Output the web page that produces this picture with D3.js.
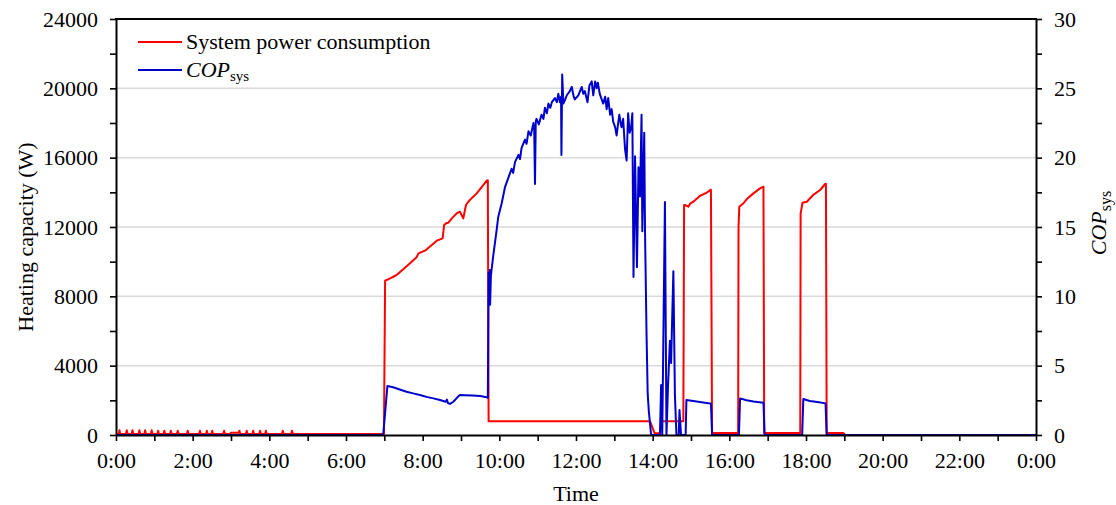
<!DOCTYPE html>
<html>
<head>
<meta charset="utf-8">
<script src="https://cdn.jsdelivr.net/npm/d3@7"></script>
<style>
  html, body { margin: 0; padding: 0; background: #fff; }
  svg { display: block; font-family: "Liberation Serif", "Times New Roman", serif; }
</style>
</head>
<body>
<svg id="chart" width="1116" height="505"></svg>
<script>
// ---- data: time of day in hours, power in W, COP dimensionless ----
const hourTicks = d3.range(0, 25, 1);          // minor every hour, labelled every 2 h
const powerTicks = d3.range(0, 24001, 2000);   // labelled every 4000 W
const copTicks = d3.range(0, 30.01, 2.5);      // labelled every 5
const gridValues = [4000, 8000, 12000, 16000, 20000];

const seriesNames = ["System power consumption", "COP"];

// System power consumption (W)
const powerSeries = [
  [0, 60], [0.07, 60], [0.09, 280], [0.11, 60],
  [0.26, 60], [0.28, 280], [0.30, 60],
  [0.41, 60], [0.43, 280], [0.45, 60],
  [0.59, 60], [0.61, 280], [0.63, 60],
  [0.74, 60], [0.76, 280], [0.78, 60],
  [0.91, 60], [0.93, 280], [0.95, 60],
  [1.08, 60], [1.10, 250], [1.12, 60],
  [1.24, 60], [1.26, 250], [1.28, 60],
  [1.41, 60], [1.43, 250], [1.45, 60],
  [1.59, 60], [1.61, 250], [1.63, 60],
  [1.85, 60], [1.87, 250], [1.89, 60],
  [2.17, 60], [2.19, 250], [2.21, 60],
  [2.35, 60], [2.37, 250], [2.39, 60],
  [2.49, 60], [2.51, 250], [2.53, 60],
  [2.80, 60], [2.82, 250], [2.84, 60],
  [2.97, 60], [3.00, 130], [3.20, 130], [3.22, 250], [3.24, 60],
  [3.39, 60], [3.41, 250], [3.43, 60],
  [3.56, 60], [3.58, 250], [3.60, 60],
  [3.74, 60], [3.76, 250], [3.78, 60],
  [3.89, 60], [3.91, 250], [3.93, 60],
  [4.33, 60], [4.35, 250], [4.37, 60],
  [4.57, 60], [4.59, 250], [4.61, 60],
  [6.99, 60], [7.02, 8900], [7.06, 8942], [7.15, 9038], [7.32, 9231],
  [7.50, 9577], [7.67, 9904], [7.84, 10250], [7.89, 10481], [7.93, 10519],
  [8.06, 10635], [8.37, 11212], [8.52, 11346], [8.56, 12115], [8.61, 12212],
  [8.67, 12250], [8.76, 12500], [8.89, 12790], [8.97, 12885], [9.06, 12500],
  [9.13, 13270], [9.23, 13560], [9.41, 13940], [9.58, 14420], [9.67, 14670],
  [9.70, 14700], [9.72, 800],
  [13.93, 800], [14.05, 100], [14.19, 100], [14.23, 800], [14.80, 800],
  [14.82, 13270], [14.84, 13270], [14.93, 13170], [14.97, 13330], [15.06, 13460],
  [15.23, 13790], [15.41, 13980], [15.50, 14135], [15.52, 14150], [15.55, 120],
  [16.23, 120], [16.24, 12020], [16.26, 13170], [16.37, 13370], [16.45, 13600],
  [16.63, 13940], [16.80, 14230], [16.89, 14325], [16.91, 120],
  [17.85, 120], [17.86, 12790], [17.91, 13400], [18.02, 13460], [18.19, 13850],
  [18.37, 14135], [18.50, 14480], [18.52, 14500], [18.54, 120],
  [18.97, 120], [19.02, 0], [24, 0]
];

// System COP
const copSeries = [
  [0, 0], [6.97, 0], [7.08, 3.53], [7.23, 3.44], [7.40, 3.28], [7.58, 3.12],
  [7.75, 3.0], [7.93, 2.88], [8.10, 2.75], [8.28, 2.64], [8.45, 2.52],
  [8.60, 2.40], [8.63, 2.55], [8.66, 2.30], [8.71, 2.24], [8.80, 2.40],
  [8.90, 2.70], [8.97, 2.88], [9.10, 2.86], [9.30, 2.84], [9.50, 2.81],
  [9.67, 2.72], [9.70, 2.68], [9.72, 11.7], [9.73, 9.7], [9.75, 11.9],
  [9.76, 9.4], [9.78, 11.5], [9.84, 12.9], [9.93, 14.8], [9.97, 15.7],
  [10.06, 16.7], [10.15, 17.9], [10.23, 18.5], [10.32, 19.2], [10.36, 18.9],
  [10.41, 19.7], [10.50, 20.2], [10.54, 19.9], [10.58, 20.7], [10.67, 21.3],
  [10.71, 21.0], [10.76, 21.9], [10.82, 21.6], [10.89, 22.5], [10.91, 22.0],
  [10.93, 18.1], [10.95, 22.6], [10.97, 22.8], [11.03, 22.4], [11.10, 23.1],
  [11.15, 22.8], [11.19, 23.6], [11.24, 23.2], [11.28, 23.9], [11.33, 23.6],
  [11.37, 24.0], [11.45, 24.3], [11.50, 24.0], [11.54, 24.6], [11.58, 24.0],
  [11.61, 24.4], [11.62, 20.2], [11.64, 26.0], [11.67, 23.9], [11.72, 24.2],
  [11.76, 24.5], [11.84, 24.8], [11.89, 25.1], [11.94, 24.4], [11.97, 24.2],
  [12.06, 24.5], [12.15, 25.1], [12.19, 24.6], [12.23, 24.8], [12.30, 24.0],
  [12.35, 25.2], [12.41, 25.5], [12.45, 24.5], [12.50, 25.5], [12.54, 25.0],
  [12.57, 25.4], [12.62, 24.6], [12.67, 24.2], [12.71, 23.9], [12.76, 24.4],
  [12.80, 23.5], [12.84, 24.3], [12.89, 23.1], [12.93, 23.5], [12.97, 22.6],
  [13.02, 22.2], [13.06, 21.6], [13.10, 22.5], [13.13, 23.1], [13.17, 22.4],
  [13.19, 22.2], [13.23, 22.8], [13.28, 20.6], [13.32, 19.8], [13.36, 23.2],
  [13.40, 21.8], [13.44, 22.2], [13.47, 23.2], [13.50, 11.4], [13.54, 20.1],
  [13.59, 12.1], [13.63, 19.3], [13.67, 17.2], [13.71, 23.1], [13.73, 14.7],
  [13.78, 21.8], [13.80, 14.8], [13.84, 7.3], [13.87, 3.0], [13.90, 1.7],
  [13.96, 0], [14.19, 0], [14.22, 3.6], [14.25, 0], [14.32, 16.8], [14.36, 0],
  [14.40, 3.5], [14.45, 6.8], [14.48, 5.2], [14.54, 11.8], [14.58, 2.9],
  [14.62, 0], [14.68, 0], [14.70, 1.8], [14.74, 0], [14.86, 0],
  [14.88, 2.52], [15.06, 2.45], [15.23, 2.38], [15.50, 2.28], [15.52, 2.28],
  [15.55, 0], [16.25, 0], [16.28, 2.64], [16.45, 2.50], [16.63, 2.42],
  [16.89, 2.33], [16.92, 0], [17.90, 0], [17.93, 2.60], [18.10, 2.45],
  [18.30, 2.38], [18.51, 2.28], [18.54, 0], [24, 0]
];

// ---- layout ----
const svg = d3.select("#chart");
const plotLeft = 116, plotRight = 1036, plotTop = 19, plotBottom = 435;
const fontSize = 22;

const x = d3.scaleLinear().domain([0, 24]).range([plotLeft, plotRight]);
const yP = d3.scaleLinear().domain([0, 24000]).range([plotBottom, plotTop]);
const yC = d3.scaleLinear().domain([0, 30]).range([plotBottom, plotTop]);

// horizontal gridlines
svg.append("g").selectAll("line").data(gridValues).join("line")
  .attr("x1", plotLeft).attr("x2", plotRight)
  .attr("y1", d => yP(d)).attr("y2", d => yP(d))
  .attr("stroke", "#d9d9d9").attr("stroke-width", 1.5);

// data lines
const line = yScale => d3.line().x(d => x(d[0])).y(d => yScale(d[1]));
svg.append("path").datum(powerSeries)
  .attr("fill", "none").attr("stroke", "#ff0000").attr("stroke-width", 2)
  .attr("stroke-linejoin", "round").attr("d", line(yP));
svg.append("path").datum(copSeries)
  .attr("fill", "none").attr("stroke", "#0000cc").attr("stroke-width", 2)
  .attr("stroke-linejoin", "round").attr("d", line(yC));

// axes
function styleAxis(g) {
  g.select(".domain").attr("stroke", "#000").attr("stroke-width", 2);
  g.selectAll(".tick line").attr("stroke", "#000").attr("stroke-width", 1.6);
  g.selectAll(".tick text").attr("fill", "#000")
    .style("font-size", fontSize + "px").style("font-family", "'Liberation Serif', serif");
}

svg.append("g").attr("transform", `translate(0,${plotBottom})`)
  .call(d3.axisBottom(x).tickValues(hourTicks).tickSize(6).tickSizeOuter(0).tickPadding(11)
    .tickFormat(d => d % 2 === 0 ? `${d % 24}:00` : ""))
  .call(styleAxis);

svg.append("g").attr("transform", `translate(${plotLeft},0)`)
  .call(d3.axisLeft(yP).tickValues(powerTicks).tickSize(6).tickSizeOuter(0).tickPadding(12)
    .tickFormat(d => d % 4000 === 0 ? d : ""))
  .call(styleAxis);

svg.append("g").attr("transform", `translate(${plotRight},0)`)
  .call(d3.axisRight(yC).tickValues(copTicks).tickSize(6).tickSizeOuter(0).tickPadding(12)
    .tickFormat(d => d % 5 === 0 ? d : ""))
  .call(styleAxis);

// top frame
svg.append("line").attr("x1", plotLeft - 1).attr("x2", plotRight + 1)
  .attr("y1", plotTop).attr("y2", plotTop).attr("stroke", "#000").attr("stroke-width", 2);

// axis titles
svg.append("text").attr("x", x(12)).attr("y", 501).attr("text-anchor", "middle")
  .style("font-size", fontSize + "px").text("Time");

svg.append("text").attr("transform", `translate(33,${(plotTop + plotBottom) / 2 + 10}) rotate(-90)`)
  .attr("text-anchor", "middle").style("font-size", fontSize + "px")
  .text("Heating capacity (W)");

const copTitle = svg.append("text")
  .attr("transform", `translate(1106,${(plotTop + plotBottom) / 2 - 4}) rotate(-90)`)
  .attr("text-anchor", "middle").style("font-size", fontSize + "px");
copTitle.append("tspan").style("font-style", "italic").text(seriesNames[1]);
copTitle.append("tspan").attr("dy", 5).style("font-size", "16px").text("sys");

// legend
const legend = svg.append("g");
const legendRows = [
  { color: "#ff0000", y: 42 },
  { color: "#0000cc", y: 70 }
];
legend.selectAll("line").data(legendRows).join("line")
  .attr("x1", 138).attr("x2", 182)
  .attr("y1", d => d.y).attr("y2", d => d.y)
  .attr("stroke", d => d.color).attr("stroke-width", 2);

legend.append("text").attr("x", 186).attr("y", 49)
  .style("font-size", fontSize + "px").text(seriesNames[0]);
const copLegend = legend.append("text").attr("x", 186).attr("y", 77)
  .style("font-size", fontSize + "px");
copLegend.append("tspan").style("font-style", "italic").text(seriesNames[1]);
copLegend.append("tspan").attr("dy", 4).style("font-size", "15px").text("sys");
</script>
</body>
</html>
